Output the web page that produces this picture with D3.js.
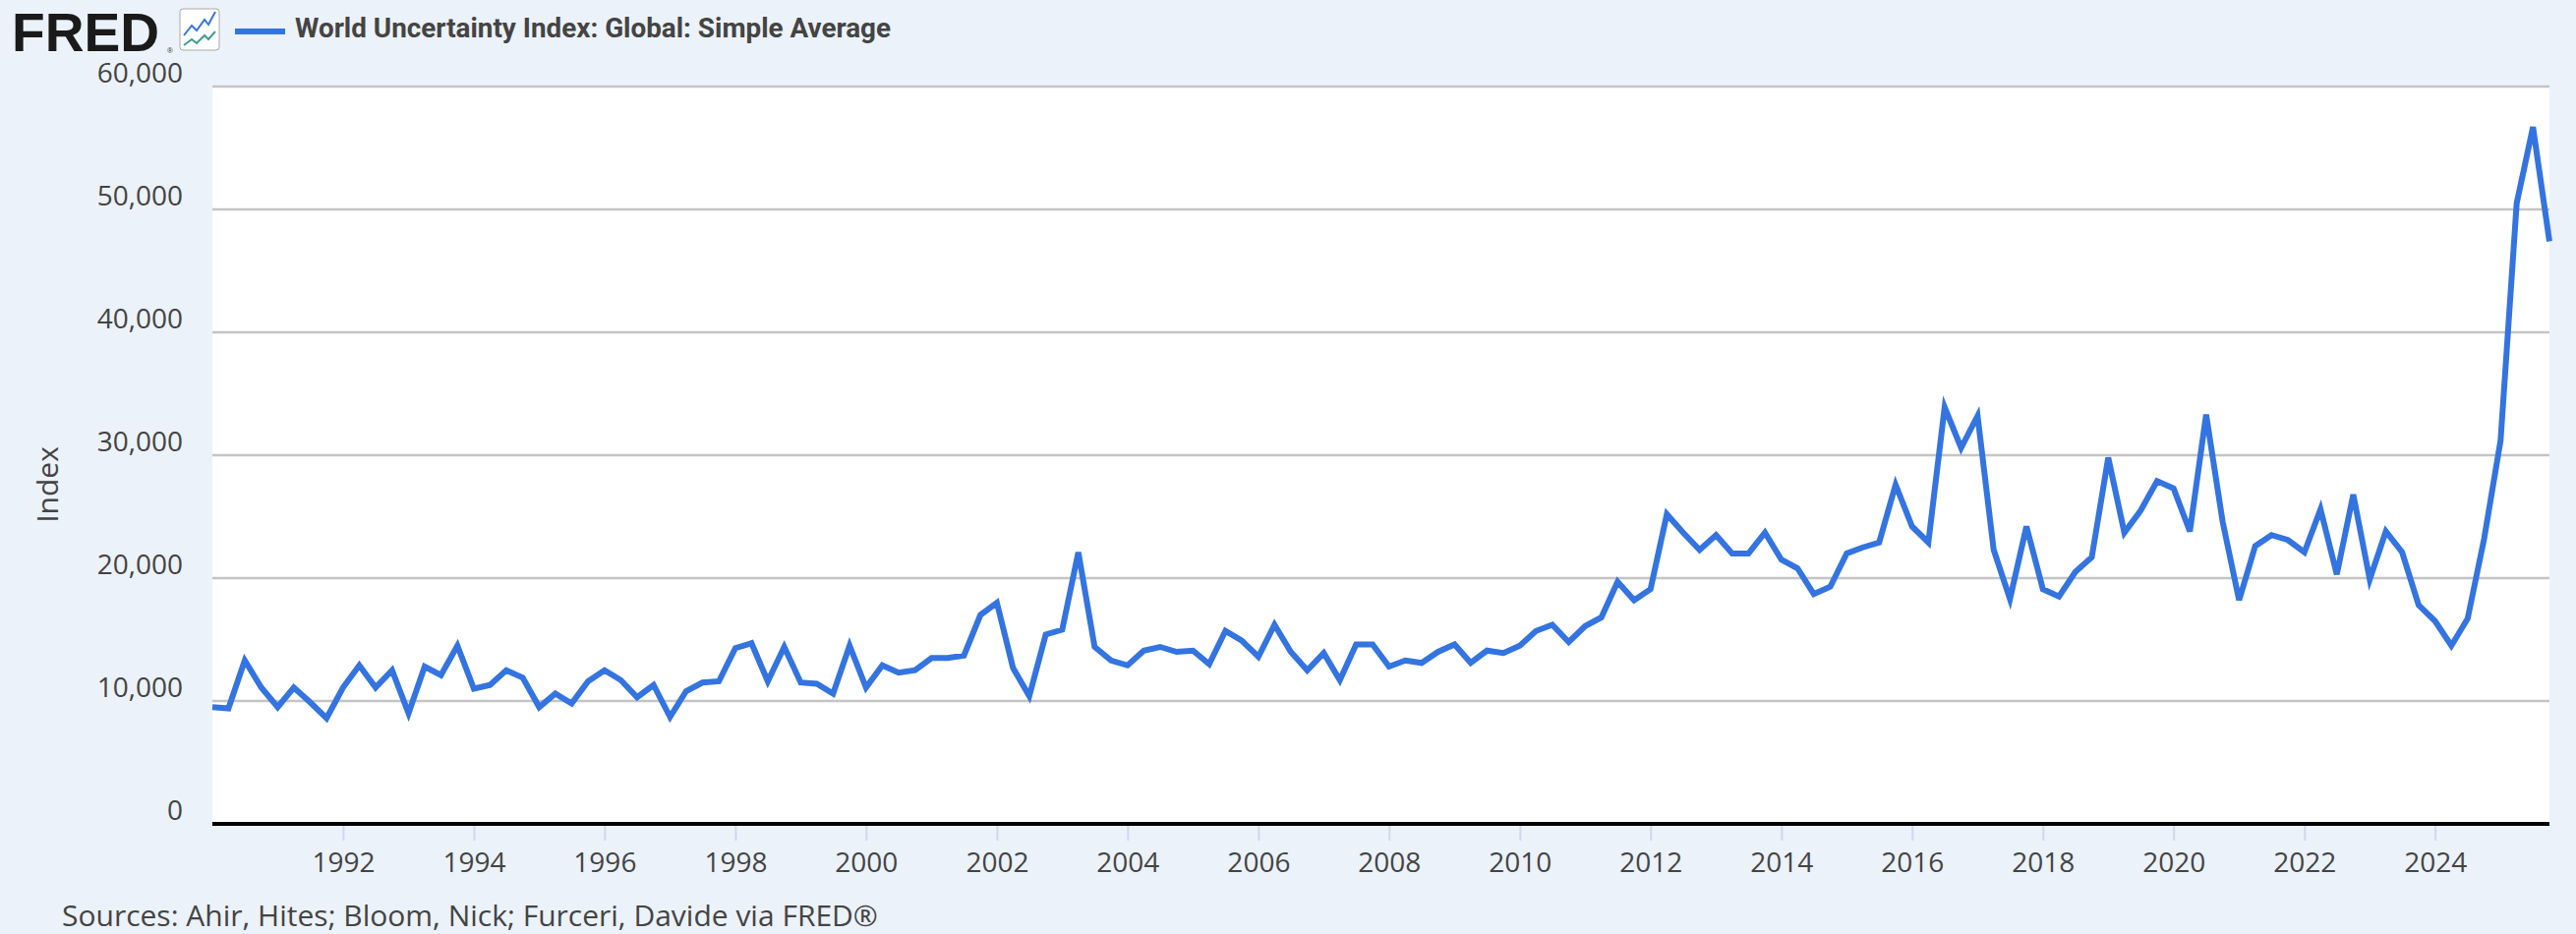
<!DOCTYPE html>
<html><head><meta charset="utf-8">
<script src="https://cdn.jsdelivr.net/npm/d3@7"></script>
<style>html,body{margin:0;padding:0;background:#ecf2fa;}svg{display:block;}</style>
</head><body>
<script>
const startYear = 1990;
const values = [
9500,9400,13300,11100, 9500,11100,9900,8600, 11100,12900,11100,12500, 9000,12800,12100,14500,
11000,11300,12500,11900, 9500,10600,9800,11600, 12500,11700,10300,11300, 8700,10800,11500,11600,
14300,14700,11600,14400, 11500,11400,10600,14500, 11100,12900,12300,12500, 13500,13500,13700,17000,
18000,12700,10400,15400, 15800,22100,14400,13300, 12900,14100,14400,14000, 14100,13000,15700,14900,
13600,16200,14000,12500, 13900,11700,14600,14600, 12800,13300,13100,14000, 14600,13100,14100,13900,
14500,15700,16200,14800, 16100,16800,19700,18200, 19100,25200,23700,22300, 23500,22000,22000,23700,
21500,20800,18700,19300, 22000,22500,22900,27600, 24200,22900,33900,30600, 33200,22300,18300,24200,
19100,18500,20500,21700, 29800,23700,25500,27900, 27300,23800,33300,24600, 18200,22600,23500,23100,
22100,25600,20300,26800, 19900,23800,22100,17800, 16500,14500,16700,23200, 31200,50500,56700,47400
];
const yTicks = [0,10000,20000,30000,40000,50000,60000];
const xTickYears = [1992,1994,1996,1998,2000,2002,2004,2006,2008,2010,2012,2014,2016,2018,2020,2022,2024];
const seriesTitle = "World Uncertainty Index: Global: Simple Average";
const yLabel = "Index";
const sourceText = "Sources: Ahir, Hites; Bloom, Nick; Furceri, Davide via FRED®";

const data = values.map((v,i)=>({d:new Date(startYear+Math.floor(i/4), (i%4)*3, 1), v}));
const W=2620,H=950, L=216, R=2593, T=88, B=838;
const svg=d3.select("body").append("svg").attr("width",W).attr("height",H);
svg.append("rect").attr("width",W).attr("height",H).attr("fill","#ecf2fa");
svg.append("rect").attr("x",L).attr("y",T).attr("width",R-L).attr("height",B-T).attr("fill","#fff");

const x=d3.scaleTime().domain([data[0].d,data[data.length-1].d]).range([L,R]);
const y=d3.scaleLinear().domain([0,60000]).range([B,T]);

svg.append("g").selectAll("line").data(yTicks.filter(t=>t>0)).join("line")
 .attr("x1",L).attr("x2",R).attr("y1",d=>y(d)).attr("y2",d=>y(d))
 .attr("stroke","#c4c4c4").attr("stroke-width",2.5);
svg.append("g").selectAll("text").data(yTicks).join("text")
 .attr("x",186).attr("y",d=>y(d)-4).attr("text-anchor","end")
 .attr("font-family","Open Sans").attr("font-size",28).attr("fill","#444")
 .text(d=>d3.format(",")(d));
svg.append("text").attr("transform",`translate(59,${(T+B)/2+30}) rotate(-90)`)
 .attr("text-anchor","middle").attr("font-family","Open Sans").attr("font-size",30).attr("fill","#444").text(yLabel);

const xa=svg.append("g").attr("transform",`translate(0,${B})`)
 .call(d3.axisBottom(x).tickValues(xTickYears.map(yy=>new Date(yy,0,1))).tickFormat(d3.timeFormat("%Y")).tickSize(17).tickSizeOuter(0));
xa.select(".domain").remove();
xa.selectAll(".tick line").attr("stroke","#cfd8ec").attr("stroke-width",2);
xa.selectAll(".tick text").attr("font-family","Open Sans").attr("font-size",28).attr("fill","#444").attr("dy","1.05em");
svg.append("line").attr("x1",L).attr("x2",R).attr("y1",B).attr("y2",B).attr("stroke","#000").attr("stroke-width",4);

svg.append("path").datum(data).attr("fill","none").attr("stroke","#3474e0").attr("stroke-width",6)
 .attr("stroke-linejoin","miter").attr("d",d3.line().x(d=>x(d.d)).y(d=>y(d.v)));

svg.append("text").attr("x",12).attr("y",52).attr("font-family","Liberation Sans").attr("font-weight","bold")
 .attr("font-size",56).attr("textLength",150).attr("lengthAdjust","spacingAndGlyphs").attr("fill","#1a1a1a").text("FRED");
svg.append("text").attr("x",170).attr("y",54).attr("font-family","Liberation Sans").attr("font-size",8).attr("fill","#333").text("®");
svg.append("rect").attr("x",183).attr("y",9).attr("width",40).attr("height",42).attr("rx",3).attr("fill","#fff").attr("stroke","#aaa");
svg.append("polyline").attr("points","187,36 195,26 200,31 208,20 212,25 219,12").attr("fill","none").attr("stroke","#3474e0").attr("stroke-width",2);
svg.append("polyline").attr("points","187,46 195,40 200,44 208,36 212,40 219,32").attr("fill","none").attr("stroke","#3d9c8f").attr("stroke-width",2);
svg.append("line").attr("x1",239).attr("x2",290).attr("y1",32).attr("y2",32).attr("stroke","#3474e0").attr("stroke-width",6);
svg.append("text").attr("x",300).attr("y",38).attr("font-family","Roboto").attr("font-weight","bold")
 .attr("font-size",27).attr("fill","#444").attr("textLength",606).attr("lengthAdjust","spacingAndGlyphs").text(seriesTitle);
svg.append("text").attr("x",63).attr("y",942).attr("font-family","Open Sans").attr("font-size",30).attr("fill","#444").text(sourceText);
</script>
</body></html>
